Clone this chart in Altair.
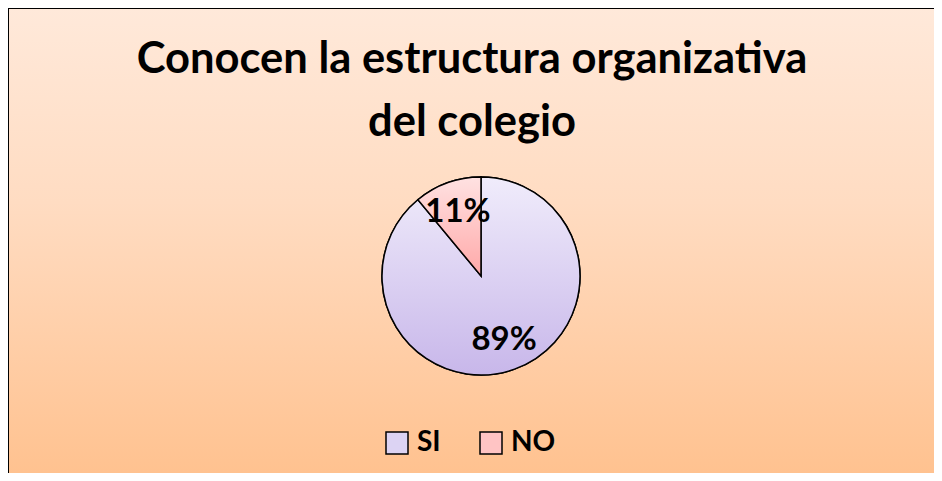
import altair as alt
import pandas as pd

# ---- data ----
categories = ["SI", "NO"]
values = [89, 11]
order = [0, 1]
labels = ["89%", "11%"]
title_lines = ["Conocen la estructura organizativa", "del colegio"]
title_rows = [0, 1]

W, H = 926, 465
CX, CY, R = 473, 268, 99
FONT = "Lato"

pie_df = pd.DataFrame({"cat": categories, "value": values, "order": order, "label": labels})
title_df = pd.DataFrame({"line": title_lines, "row": title_rows})
bg_df = pd.DataFrame({"a": [0]})

bg_grad = alt.Gradient(
    gradient="linear", x1=0, y1=0, x2=0, y2=1,
    stops=[alt.GradientStop(color="#FFE9DA", offset=0),
           alt.GradientStop(color="#FFDCC2", offset=0.4),
           alt.GradientStop(color="#FFC08C", offset=1)])

si_grad = alt.Gradient(
    gradient="linear", x1=0, y1=0, x2=0, y2=1,
    stops=[alt.GradientStop(color="#F0ECFB", offset=0),
           alt.GradientStop(color="#C8B7EA", offset=1)])
no_grad = alt.Gradient(
    gradient="linear", x1=0, y1=0, x2=0, y2=1,
    stops=[alt.GradientStop(color="#FFE2E2", offset=0),
           alt.GradientStop(color="#FFA8A8", offset=1)])

bg = alt.Chart(bg_df).mark_rect(fill=bg_grad, stroke="black", strokeWidth=2).encode(
    x=alt.value(0), x2=alt.value(W + 20), y=alt.value(0), y2=alt.value(H + 20))

title = alt.Chart(title_df).mark_text(
    font=FONT, fontSize=43.5, fontWeight="bold", color="black", baseline="alphabetic", align="center"
).encode(
    x=alt.value(464),
    y=alt.Y("row:Q", scale=alt.Scale(domain=[0, 1], range=[65, 128]), axis=None),
    text="line:N")

base = alt.Chart(pie_df).transform_window(
    cum="sum(value)", sort=[alt.SortField("order")], frame=[None, 0]
).transform_calculate(
    start="datum.cum - datum.value", mid="datum.cum - datum.value / 2")

theta_scale = alt.Scale(domain=[0, 100])

pie = base.mark_arc(outerRadius=R, stroke="black", strokeWidth=1.5).encode(
    theta=alt.Theta("start:Q", scale=theta_scale),
    theta2="cum:Q",
    x=alt.value(CX), y=alt.value(CY),
    color=alt.Color("cat:N", scale=alt.Scale(domain=categories, range=["#DCD3F3", "#FFC4C4"]),
                    legend=alt.Legend(
                        title=None, orient="none", direction="horizontal",
                        legendX=375, legendY=421, padding=0,
                        symbolType="square", symbolSize=484, symbolStrokeColor="black",
                        symbolStrokeWidth=1.5, labelFont=FONT, labelFontSize=28,
                        labelFontWeight="bold", labelColor="black", labelOffset=6,
                        columnPadding=36)))

si = base.transform_filter("datum.cat == 'SI'").mark_arc(
    outerRadius=R, stroke="black", strokeWidth=1.5, fill=si_grad).encode(
    theta=alt.Theta("start:Q", scale=theta_scale), theta2="cum:Q",
    x=alt.value(CX), y=alt.value(CY))
no = base.transform_filter("datum.cat == 'NO'").mark_arc(
    outerRadius=R, stroke="black", strokeWidth=1.5, fill=no_grad).encode(
    theta=alt.Theta("start:Q", scale=theta_scale), theta2="cum:Q",
    x=alt.value(CX), y=alt.value(CY))

txt = base.mark_text(radius=68, font=FONT, fontSize=33, fontWeight="bold", color="black").encode(
    theta=alt.Theta("mid:Q", scale=theta_scale),
    x=alt.value(CX), y=alt.value(CY),
    text="label:N")

chart = alt.layer(bg, title, pie, si, no, txt).properties(
    width=W, height=H, padding=0, autosize=alt.AutoSizeParams(type="none")
).configure_view(stroke=None).configure(background="#FFC08C")

chart.save("out.html", embed_options={"renderer": "svg", "actions": False})
